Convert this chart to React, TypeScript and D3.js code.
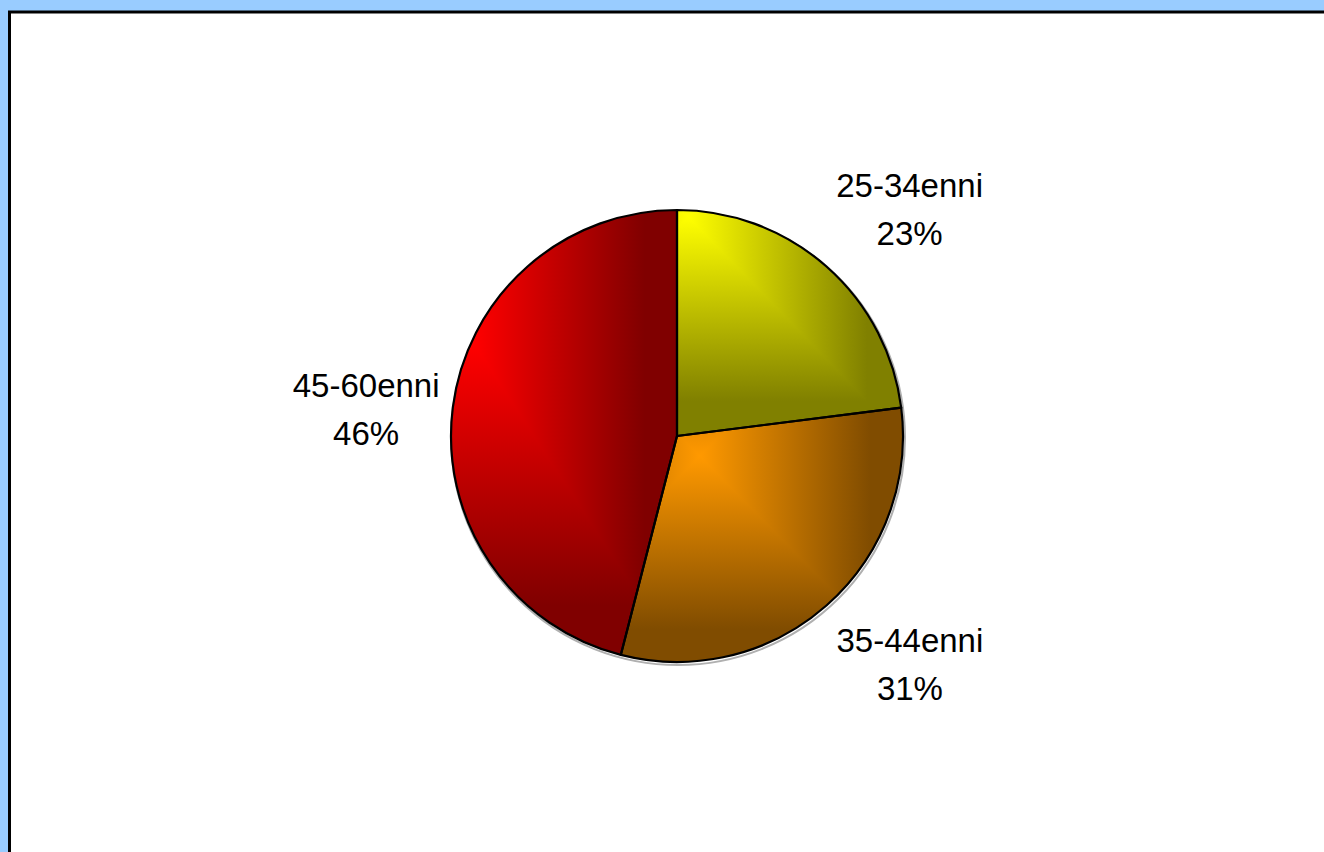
import React from "react";
import * as d3 from "d3";

const categories = ["25-34enni", "35-44enni", "45-60enni"];
const shares = [23, 31, 46];
const brightColors = ["#FFFF00", "#FF9900", "#FF0000"];
const darkColors = ["#808000", "#804C00", "#800000"];
// gradient focus (fraction of slice bounding box) — styling only
const focusX = [0.05, 0.28, 0.1];
const focusY = [0.03, 0.19, 0.3];
const darkReach = 0.84; // fraction of focus-to-edge distance where the dark colour is reached
// label placement tweaks — styling only
const labelAngleNudge = [4.3, -4.2, -2.3];
const labelRadius = [325, 326, 312];

const W = 1324;
const H = 852;
const CX = 677;
const CY = 436;
const R = 226;

function bboxOfArc(a0: number, a1: number) {
  const pts: [number, number][] = [[CX, CY]];
  const n = 200;
  for (let i = 0; i <= n; i++) {
    const a = a0 + ((a1 - a0) * i) / n;
    pts.push([CX + R * Math.sin(a), CY - R * Math.cos(a)]);
  }
  const xs = pts.map((p) => p[0]);
  const ys = pts.map((p) => p[1]);
  return { x0: d3.min(xs)!, x1: d3.max(xs)!, y0: d3.min(ys)!, y1: d3.max(ys)! };
}

function gradStops(f: number, c: (t: number) => string) {
  const d = Math.max(f, 1 - f);
  const val = (o: number) => Math.max(0, 1 - Math.abs(o - f) / d / darkReach);
  const offs = [0, f, 1];
  const l = f - darkReach * d;
  const r = f + darkReach * d;
  if (l > 0) offs.push(l);
  if (r < 1) offs.push(r);
  offs.sort((a, b) => a - b);
  return offs.map((o, k) => <stop key={k} offset={o} stopColor={c(val(o))} />);
}

export default function App() {
  const pie = d3
    .pie<number>()
    .sort(null)
    .value((d) => d)
    .startAngle(0)
    .endAngle(2 * Math.PI);
  const arcs = pie(shares);
  const arcGen = d3.arc<d3.PieArcDatum<number>>().innerRadius(0).outerRadius(R);
  const total = d3.sum(shares);

  return (
    <div style={{ position: "fixed", left: 0, top: 0, width: W, height: H }}>
      <svg width={W} height={H} style={{ display: "block" }}>
        <defs>
          {arcs.map((a, i) => {
            const b = bboxOfArc(a.startAngle, a.endAngle);
            const c = d3.interpolateRgb(darkColors[i], brightColors[i]);
            return (
              <React.Fragment key={i}>
                <linearGradient id={`gh${i}`} gradientUnits="userSpaceOnUse" x1={b.x0} y1={0} x2={b.x1} y2={0}>
                  {gradStops(focusX[i], c)}
                </linearGradient>
                <linearGradient id={`gv${i}`} gradientUnits="userSpaceOnUse" x1={0} y1={b.y0} x2={0} y2={b.y1}>
                  {gradStops(focusY[i], c)}
                </linearGradient>
                <clipPath id={`clip${i}`}>
                  <path d={arcGen(a) || ""} transform={`translate(${CX},${CY})`} />
                </clipPath>
              </React.Fragment>
            );
          })}
        </defs>

        <rect x={0} y={0} width={W} height={H} fill="#99CCFF" />
        <rect x={9.5} y={12} width={W + 20} height={H + 20} fill="#FFFFFF" stroke="#000" strokeWidth={3} />

        <circle cx={CX + 1} cy={CY + 2} r={R + 1} fill="none" stroke="#B0B0B0" strokeWidth={2} />

        {arcs.map((a, i) => {
          const b = bboxOfArc(a.startAngle, a.endAngle);
          const px = b.x0 + focusX[i] * (b.x1 - b.x0);
          const py = b.y0 + focusY[i] * (b.y1 - b.y0);
          const pad = 2;
          const Dx = Math.max(px - b.x0, b.x1 - px);
          const Dy = Math.max(py - b.y0, b.y1 - py);
          const dyT = py - b.y0;
          const dyB = b.y1 - py;
          const tri = (sy: number, dyE: number) => {
            const k = 1.05;
            const ey = py + sy * dyE * k;
            const ex = (dyE / Dy) * Dx * k;
            return [
              [px, py],
              [px - ex, ey],
              [px + ex, ey],
            ]
              .map((p) => p.join(","))
              .join(" ");
          };
          return (
            <g key={i} clipPath={`url(#clip${i})`}>
              <rect
                x={b.x0 - pad}
                y={b.y0 - pad}
                width={b.x1 - b.x0 + 2 * pad}
                height={b.y1 - b.y0 + 2 * pad}
                fill={`url(#gh${i})`}
              />
              <polygon points={tri(-1, dyT)} fill={`url(#gv${i})`} />
              <polygon points={tri(1, dyB)} fill={`url(#gv${i})`} />
            </g>
          );
        })}

        {arcs.map((a, i) => (
          <path
            key={`s${i}`}
            d={arcGen(a) || ""}
            transform={`translate(${CX},${CY})`}
            fill="none"
            stroke="#000"
            strokeWidth={2.2}
            strokeLinejoin="round"
          />
        ))}

        {arcs.map((a, i) => {
          const mid = (a.startAngle + a.endAngle) / 2 + (labelAngleNudge[i] * Math.PI) / 180;
          const lx = CX + labelRadius[i] * Math.sin(mid);
          const ly = CY - labelRadius[i] * Math.cos(mid);
          const pct = Math.round((a.data / total) * 100);
          return (
            <text
              key={`t${i}`}
              textAnchor="middle"
              fontFamily="'Liberation Sans', Arial, sans-serif"
              fontSize={33}
              fill="#000"
            >
              <tspan x={lx} y={ly - 12}>
                {categories[i]}
              </tspan>
              <tspan x={lx} y={ly + 36}>
                {`${pct}%`}
              </tspan>
            </text>
          );
        })}
      </svg>
    </div>
  );
}
